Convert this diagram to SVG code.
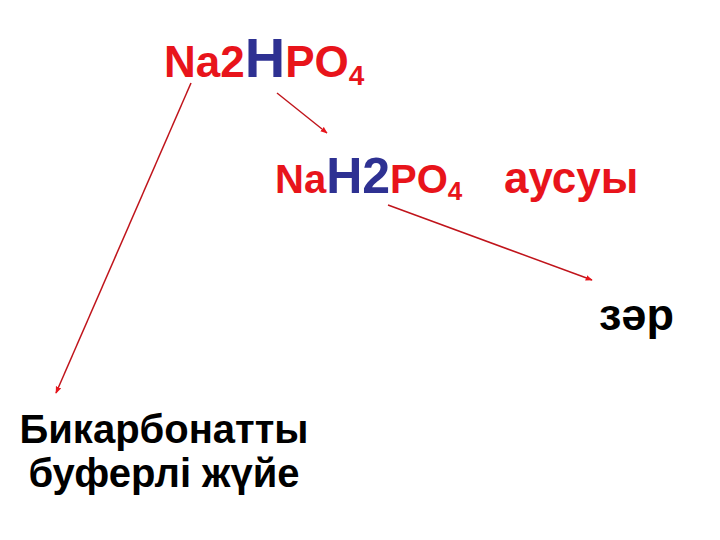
<svg xmlns="http://www.w3.org/2000/svg" width="720" height="540" viewBox="0 0 720 540">
<style>
text{font-family:"Liberation Sans",Arial,sans-serif;font-weight:bold}
.r{fill:#E8141B}
.b{fill:#2E3192}
.k{fill:#000}
.c{stroke:#C0141B;stroke-width:1.5;fill:none;marker-end:url(#ah)}
</style>
<defs>
<marker id="ah" viewBox="0 0 10 10" refX="9" refY="5" markerWidth="7" markerHeight="7" orient="auto" markerUnits="userSpaceOnUse">
<path d="M0,1 L10,5 L0,9 z" fill="#E8141B"/>
</marker>
</defs>
<rect width="720" height="540" fill="#fff"/>
<g id="n1"><text x="164" y="77"><tspan class="r" font-size="44">Na2</tspan><tspan class="b" font-size="56">H</tspan><tspan class="r" font-size="44">PO</tspan><tspan class="r" font-size="28" dy="8">4</tspan></text></g>
<g id="n2"><text x="275" y="193"><tspan class="r" font-size="40">Na</tspan><tspan class="b" font-size="50">H2</tspan><tspan class="r" font-size="40">PO</tspan><tspan class="r" font-size="26" dy="7">4</tspan></text></g>
<g id="n3"><text x="504" y="193" class="r" font-size="44">аусуы</text></g>
<g id="n4"><text x="599" y="330" class="k" font-size="45">зәр</text></g>
<g id="n5"><text x="164" y="443" class="k" font-size="40" text-anchor="middle">Бикарбонатты</text><text x="164" y="487" class="k" font-size="40" text-anchor="middle">буферлі жүйе</text></g>
<g id="connectors">
<line class="c" x1="191" y1="83" x2="56" y2="393"/>
<line class="c" x1="277" y1="93" x2="327" y2="133"/>
<line class="c" x1="388" y1="205" x2="592" y2="280"/>
</g>
</svg>
